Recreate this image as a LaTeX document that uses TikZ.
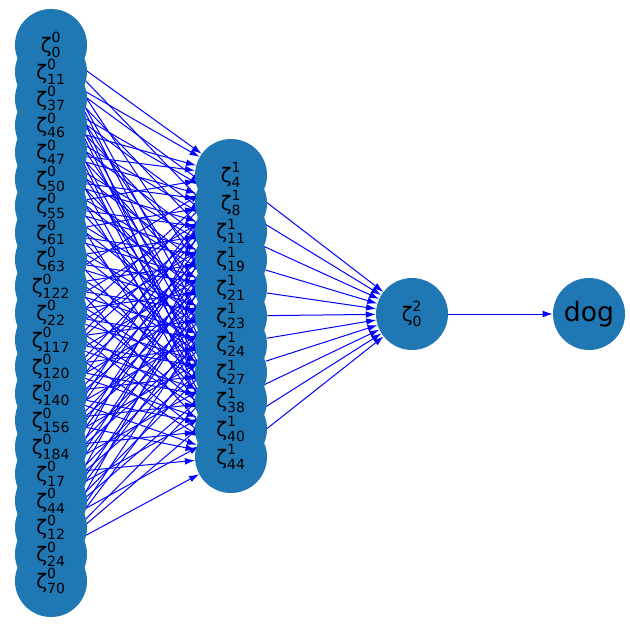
\documentclass[tikz,border=0pt]{standalone}
\usepackage{fontspec}
\usepackage{amsmath}
\setmainfont{DejaVu Sans}
\usetikzlibrary{arrows.meta}
\definecolor{nodeblue}{HTML}{1F77B4}
\definecolor{edgeblue}{HTML}{0000FF}
\pgfdeclarelayer{bg}
\pgfsetlayers{bg,main}
\newcommand\zlab[2]{$\text{ζ}^{\text{#1}}_{\text{#2}}$}
\begin{document}
\begin{tikzpicture}[x=0.75pt,y=-0.75pt,
  nd/.style={circle,fill=nodeblue,minimum size=54pt,inner sep=0pt},
  lab/.style={inner sep=0pt,text=black,font=\fontsize{15}{18}\selectfont},
  ed/.style={edgeblue,line width=0.75pt,-{Latex[length=7.5pt,width=5pt]}}]
\useasboundingbox (0,0) rectangle (630,624);
% left column circles
\foreach \k in {0,...,20} \node[nd] (l\k) at (51,{45+26.8*\k}) {};
% middle column circles
\foreach \k in {0,...,10} \node[nd] (m\k) at (231,{175+28.2*\k}) {};
\node[nd,lab] (out) at (412,314) {\zlab{2}{0}};
\node[nd,lab,font=\fontsize{20}{24}\selectfont] (dog) at (589,314) {dog};
% labels on top of all circles
\foreach \lbl [count=\k from 0] in {0,11,37,46,47,50,55,61,63,122,22,117,120,140,156,184,17,44,12,24,70}
  \node[lab] (tl\k) at (l\k) {\zlab{0}{\lbl}};
\foreach \lbl [count=\k from 0] in {4,8,11,19,21,23,24,27,38,40,44}
  \node[lab] (tm\k) at (m\k) {\zlab{1}{\lbl}};
% edges behind the nodes
\begin{pgfonlayer}{bg}
\foreach \i in {0,...,19}
  \foreach \j in {0,...,10} {
    \pgfmathtruncatemacro\r{mod(\i*4+\j*7,11)}
    \ifnum\r<6 \draw[ed] (l\i) -- (m\j); \fi
  }
\foreach \j in {0,...,10} \draw[ed] (m\j) -- (out);
\draw[ed] (out) -- (dog);
\end{pgfonlayer}
\end{tikzpicture}
\end{document}
